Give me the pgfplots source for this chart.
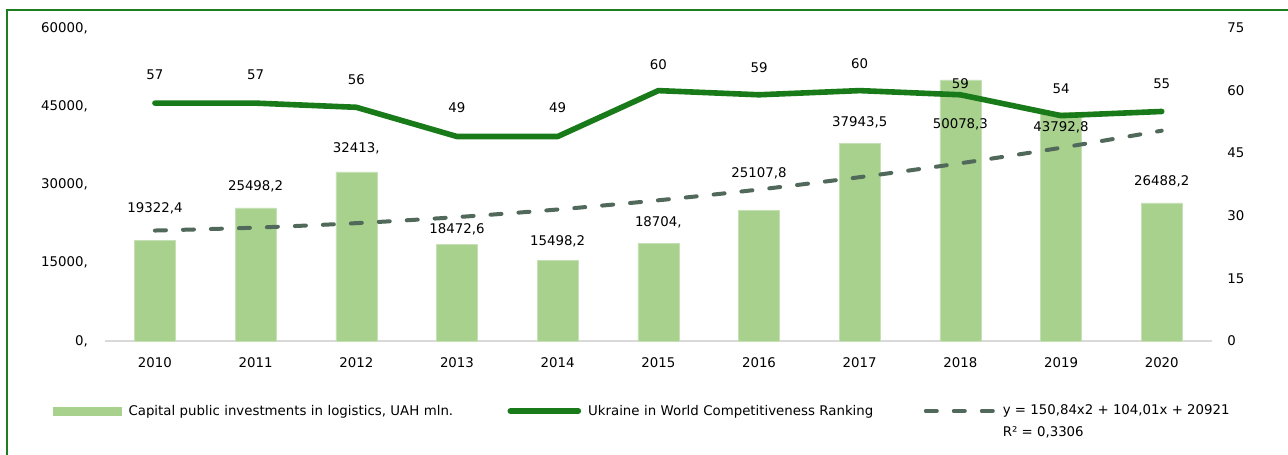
\documentclass[border=0pt]{standalone}
\usepackage{fontspec}
\setmainfont{DejaVu Sans}
\usepackage{pgfplots}
\pgfplotsset{compat=1.18}
\definecolor{barc}{RGB}{169,209,142}
\definecolor{baredge}{RGB}{197,224,180}
\definecolor{linec}{RGB}{24,122,24}
\definecolor{trendc}{RGB}{80,105,90}
\definecolor{framec}{RGB}{30,125,30}
\definecolor{basec}{RGB}{217,217,217}
\begin{document}
\begin{tikzpicture}[font=\fontsize{10}{12}\selectfont]
\pgfplotsset{
  common/.style={
    scale only axis, width=830.6pt, height=234.75pt,
    xmin=-0.5, xmax=10.5,
    axis line style={draw=none},
    major tick length=0pt,
    scaled y ticks=false,
    scaled x ticks=false,
    clip=false,
    at={(0pt,0pt)}, anchor=south west,
  }
}
\begin{axis}[common,
  ymin=0, ymax=60000,
  ytick={0,15000,30000,45000,60000},
  yticklabels={{0,},{15000,},{30000,},{45000,},{60000,}},
  yticklabel style={xshift=-9pt},
  xtick={0,1,2,3,4,5,6,7,8,9,10},
  xticklabels={2010,2011,2012,2013,2014,2015,2016,2017,2018,2019,2020},
  xticklabel style={yshift=-9pt},
]
\draw[basec, line width=1.5pt] (axis cs:-0.5,0) -- (axis cs:10.5,0);
\addplot[ybar, bar width=30.75pt, fill=barc, draw=baredge, line width=0.4pt] coordinates {
(0,19322.4) (1,25498.2) (2,32413) (3,18472.6) (4,15498.2) (5,18704)
(6,25107.8) (7,37943.5) (8,50078.3) (9,43792.8) (10,26488.2)};
\addplot[smooth, trendc, line width=3pt, line cap=round, dash pattern=on 8.25pt off 12.75pt] coordinates {
(0,21175.85) (1,21732.38) (2,22590.59) (3,23750.48) (4,25212.05) (5,26975.30)
(6,29040.23) (7,31406.84) (8,34075.13) (9,37045.10) (10,40316.75)};
\node at (axis cs:0,25400) {19322,4};
\node at (axis cs:1,29568) {25498,2};
\node at (axis cs:2,36960) {32413,};
\node at (axis cs:3,21504) {18472,6};
\node at (axis cs:4,19200) {15498,2};
\node at (axis cs:5,22656) {18704,};
\node at (axis cs:6,32064) {25107,8};
\node at (axis cs:7,41856) {37943,5};
\node at (axis cs:8,41472) {50078,3};
\node at (axis cs:9,40896) {43792,8};
\node at (axis cs:10,30528) {26488,2};
\end{axis}
\begin{axis}[common,
  ymin=0, ymax=75,
  ytick={0,15,30,45,60,75},
  yticklabels={0,15,30,45,60,75},
  yticklabel pos=right,
  yticklabel style={xshift=8pt},
  hide x axis,
  legend columns=3,
  legend cell align=left,
  legend style={draw=none, fill=none, inner sep=0pt, outer sep=0pt,
    at={(-0.04659,-0.2236)}, anchor=west,
    /tikz/column sep=5.25pt,
    nodes={inner sep=0pt}},
  legend image code/.code={\draw[#1] (0pt,0pt) -- (51pt,0pt);},
]
\addlegendimage{legend image code/.code={\fill[barc] (0pt,-3.1pt) rectangle (51pt,3.1pt);}}
\addlegendentry[text width=279pt]{Capital public investments in logistics, UAH mln.}
\addplot[linec, line width=4.2pt, line join=round, line cap=round] coordinates {
(0,57) (1,57) (2,56) (3,49) (4,49) (5,60) (6,59) (7,60) (8,59) (9,54) (10,55)};
\addlegendentry[text width=246.5pt]{Ukraine in World Competitiveness Ranking}
\addlegendimage{trendc, line width=3pt, line cap=round, dash pattern=on 8.25pt off 12.75pt}
\addlegendentry{\raisebox{0pt}[\height][0pt]{\vtop{\baselineskip=16.5pt\hbox{y = 150,84x2 + 104,01x + 20921}\hbox{R² = 0,3306}}}}
\node at (axis cs:0,63.84) {57};
\node at (axis cs:1,63.84) {57};
\node at (axis cs:2,62.64) {56};
\node at (axis cs:3,55.9) {49};
\node at (axis cs:4,55.9) {49};
\node at (axis cs:5,66.24) {60};
\node at (axis cs:6,65.5) {59};
\node at (axis cs:7,66.5) {60};
\node at (axis cs:8,61.7) {59};
\node at (axis cs:9,60.5) {54};
\node at (axis cs:10,61.7) {55};
\end{axis}
\draw[framec, line width=1.5pt] (-73.2pt,-120pt) -- (-73.2pt,248.25pt) -- (960pt,248.25pt);
\pgfresetboundingbox
\useasboundingbox (-78.45pt,-84.75pt) rectangle (887.55pt,255.75pt);
\end{tikzpicture}
\end{document}
